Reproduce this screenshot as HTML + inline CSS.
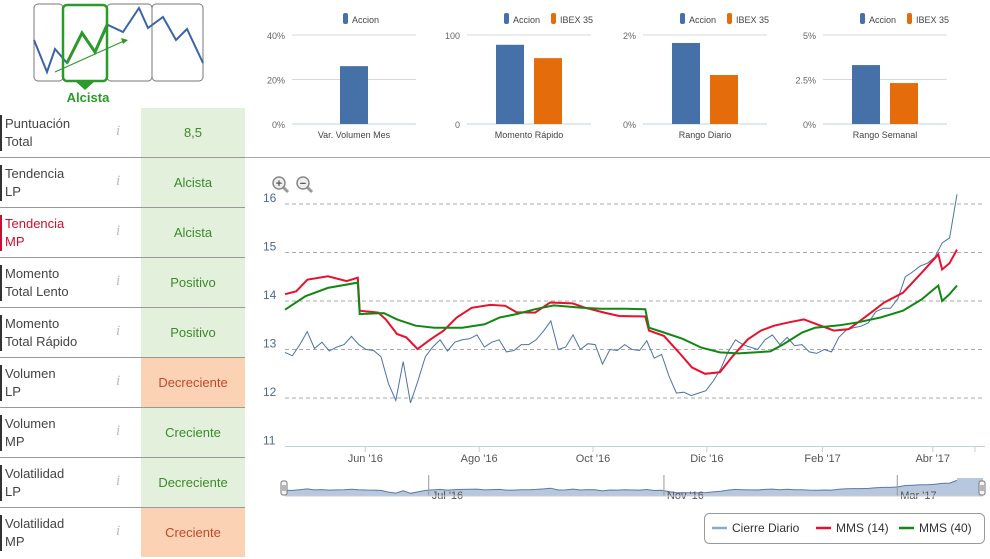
<!DOCTYPE html>
<html><head><meta charset="utf-8">
<style>
body{margin:0;width:990px;height:559px;background:#fff;font-family:"Liberation Sans",sans-serif;overflow:hidden;position:relative}
.row{position:absolute;left:0;width:245px;height:49px;border-bottom:1px solid #999}
.lab{position:absolute;left:5px;top:7px;font-size:13px;line-height:18px;color:#444;border-left:2px solid #333;padding-left:3px;margin-left:-5px}
.ic{position:absolute;left:116px;top:15px;font:italic 15px "Liberation Serif",serif;color:#bbb}
.val{position:absolute;left:141px;top:0;width:104px;height:49px;line-height:49px;text-align:center;font-size:13px}
.g{background:#e2f0dc;color:#3d8a2a}.o{background:#fbd3b4;color:#c0492b}
svg text{font-family:"Liberation Sans",sans-serif}
</style></head><body>
<svg style="position:absolute;left:0;top:0" width="245" height="108">
 <rect x="34" y="4" width="29" height="77" rx="4" fill="#fff" stroke="#777"/>
 <rect x="107" y="4" width="45" height="77" rx="4" fill="#fff" stroke="#777"/>
 <rect x="152" y="4" width="51" height="77" rx="4" fill="#fff" stroke="#777"/>
 <polyline points="34,40 47,72 55,49 67,63 82,33 95,52 108,25 123,32 139,8 148,28 163,17 176,40 187,29 203,63" fill="none" stroke="#3a64a8" stroke-width="2"/>
 <rect x="63" y="5" width="44" height="76" rx="4" fill="none" stroke="#2a9a2a" stroke-width="2.5"/>
 <polyline points="67,63 82,33 95,52 107,25" fill="none" stroke="#2a9a2a" stroke-width="3"/>
 <line x1="55" y1="72" x2="124" y2="41" stroke="#2a9a2a" stroke-width="1.2"/>
 <polygon points="128,40 121,38 123,44" fill="#2a9a2a"/>
 <polygon points="75,81 95,81 85,90" fill="#2a9a2a"/>
 <text x="88" y="102" text-anchor="middle" font-size="13" font-weight="bold" fill="#2a9a2a">Alcista</text>
</svg>

<div class="row" style="top:108px"><div class="lab">Puntuación<br>Total</div><span class="ic">i</span><div class="val g">8,5</div></div>
<div class="row" style="top:158px"><div class="lab">Tendencia<br>LP</div><span class="ic">i</span><div class="val g">Alcista</div></div>
<div class="row" style="top:208px"><div class="lab" style="color:#c8102e;border-color:#c8102e">Tendencia<br>MP</div><span class="ic">i</span><div class="val g">Alcista</div></div>
<div class="row" style="top:258px"><div class="lab">Momento<br>Total Lento</div><span class="ic">i</span><div class="val g">Positivo</div></div>
<div class="row" style="top:308px"><div class="lab">Momento<br>Total Rápido</div><span class="ic">i</span><div class="val g">Positivo</div></div>
<div class="row" style="top:358px"><div class="lab">Volumen<br>LP</div><span class="ic">i</span><div class="val o">Decreciente</div></div>
<div class="row" style="top:408px"><div class="lab">Volumen<br>MP</div><span class="ic">i</span><div class="val g">Creciente</div></div>
<div class="row" style="top:458px"><div class="lab">Volatilidad<br>LP</div><span class="ic">i</span><div class="val g">Decreciente</div></div>
<div class="row" style="top:508px;border-bottom:none"><div class="lab">Volatilidad<br>MP</div><span class="ic">i</span><div class="val o">Creciente</div></div>

<svg id="topcharts" style="position:absolute;left:0;top:0" width="990" height="160"></svg>
<svg id="main" style="position:absolute;left:0;top:0" width="990" height="559"></svg>

<script>
// mini bar chart data
const miniTitles=["Var. Volumen Mes","Momento Rápido","Rango Diario","Rango Semanal"];
const miniAccion=[26,89,1.82,3.31];
const miniIbex=[null,74,1.10,2.30];
const miniMax=[40,100,2,5];
const miniTicks=[["0%","20%","40%"],["0","100"],["0%","2%"],["0%","2.5%","5%"]];

// main chart data
const closeStepDays=360/91;
const closeVals=[12.94,12.87,13.1,13.37,13.02,13.15,12.97,13.05,13.1,13.27,13.1,13.0,12.98,12.85,12.3,11.95,12.75,11.9,12.35,12.85,13.05,13.2,12.97,13.15,13.2,13.22,13.3,13.05,13.15,13.2,12.95,12.98,13.1,13.1,13.2,13.38,13.59,13.0,13.05,13.3,13.0,13.12,13.1,12.7,13.0,12.98,13.1,13.0,12.98,13.18,12.82,12.9,12.45,12.1,12.12,12.05,12.1,12.15,12.35,12.6,12.95,13.2,13.1,13.05,13.0,13.2,13.3,13.1,13.25,13.08,13.1,12.95,12.92,13.0,12.95,13.25,13.4,13.45,13.48,13.55,13.78,13.85,13.85,14.05,14.5,14.6,14.72,14.78,14.9,15.2,15.3,16.2];
const ma14Days=[0,6,12,23,33,39,40,50,54,60,65,71,78,85,92,100,110,118,124,134,142,154,161,171,179,193,195,203,211,218,225,233,240,248,255,262,270,278,287,294,302,307,314,321,331,341,350,352,356,360];
const ma14Vals=[14.14,14.2,14.44,14.51,14.41,14.48,13.8,13.76,13.62,13.32,13.25,13.01,13.21,13.39,13.66,13.86,13.92,13.9,13.77,13.76,13.97,13.95,13.86,13.76,13.69,13.68,13.39,13.28,12.94,12.63,12.5,12.53,12.87,13.21,13.39,13.49,13.56,13.62,13.49,13.39,13.42,13.56,13.76,13.97,14.17,14.58,14.96,14.65,14.78,15.06];
const ma40Days=[0,11,23,39,40,53,60,70,80,95,107,115,124,134,144,159,169,183,193,195,203,213,223,233,243,260,267,277,284,297,307,319,331,341,350,352,356,360];
const ma40Vals=[13.82,14.1,14.27,14.38,13.73,13.75,13.62,13.49,13.45,13.45,13.52,13.66,13.73,13.83,13.91,13.86,13.84,13.84,13.83,13.45,13.35,13.22,13.04,12.94,12.92,12.96,13.11,13.35,13.45,13.5,13.56,13.66,13.8,14.03,14.32,14.0,14.14,14.32];
const yTicks=[11,12,13,14,15,16];
const xTickLabels=["Jun '16","Ago '16","Oct '16","Dic '16","Feb '17","Abr '17"];
const xTickDays=[43,104,165,226,288,347];
const navLabels=["Jul '16","Nov '16","Mar '17"];
const navDays=[77,203,328];

const NS="http://www.w3.org/2000/svg";
function mk(p,t,a){const e=document.createElementNS(NS,t);for(const k in a)e.setAttribute(k,a[k]);p.appendChild(e);return e;}

// mini charts
const topSvg=document.getElementById('topcharts');
const miniX=[292,467,643,823],miniW=124,y0=124,y1=35;
mk(topSvg,'line',{x1:245,y1:157.5,x2:990,y2:157.5,stroke:'#aaa'});
miniTitles.forEach((t,i)=>{
 const g=mk(topSvg,'g',{});
 
 
 const x0=miniX[i];
 const ticks=miniTicks[i];
 ticks.forEach((lab,j)=>{const y=y0-(y0-y1)*j/(ticks.length-1);
  mk(g,'line',{x1:x0,y1:y,x2:x0+miniW,y2:y,stroke:j==0?'#c0d0e0':'#d8d8d8'});
  const tx=mk(g,'text',{x:x0-7,y:y+4,'text-anchor':'end','font-size':9,fill:'#666'});tx.textContent=lab;});
 const ys=v=>y0-(y0-y1)*v/miniMax[i];
 const cx=x0+miniW/2;
 const hasI=miniIbex[i]!==null;
 const bx=hasI?cx-33:cx-14;
 const b=mk(g,'rect',{x:bx,y:ys(miniAccion[i]),width:28,height:y0-ys(miniAccion[i]),fill:'#4570a8'});
 
 
 if(hasI){const o=mk(g,'rect',{x:cx+5,y:ys(miniIbex[i]),width:28,height:y0-ys(miniIbex[i]),fill:'#e46c0a'});
  
  }
 const tt=mk(g,'text',{x:cx,y:138,'text-anchor':'middle','font-size':9,fill:'#444'});tt.textContent=t;
 const lx=hasI?cx-25:cx-11;
 mk(g,'rect',{x:lx,y:13,width:5,height:11,rx:2,fill:'#4570a8'});
 const l1=mk(g,'text',{x:lx+9,y:23,'font-size':9,fill:'#444'});l1.textContent='Accion';
 if(hasI){mk(g,'rect',{x:lx+47,y:13,width:5,height:11,rx:2,fill:'#e46c0a'});
  const l2=mk(g,'text',{x:lx+56,y:23,'font-size':9,fill:'#444'});l2.textContent='IBEX 35';}
});

// main chart
const m=document.getElementById('main');
const X=d=>285+d*(672/360);
const Y=v=>204+(16-v)*48.5;
yTicks.forEach(v=>{
 if(v>11)mk(m,'line',{x1:285,y1:Y(v),x2:985,y2:Y(v),stroke:'#aaa','stroke-dasharray':'4,3'});
 const t=mk(m,'text',{x:263,y:Y(v)-2,'font-size':12,fill:'#4a6a8f'});t.textContent=v;
});
mk(m,'line',{x1:285,y1:446.5,x2:985,y2:446.5,stroke:'#c0d0e0'});
xTickDays.forEach((d,i)=>{
 mk(m,'line',{x1:X(d),y1:446,x2:X(d),y2:452,stroke:'#c0d0e0'});
 const t=mk(m,'text',{x:X(d),y:462,'text-anchor':'middle','font-size':11,fill:'#555'});t.textContent=xTickLabels[i];
});
mk(m,'line',{x1:975,y1:446,x2:975,y2:452,stroke:'#c0d0e0'});
function path(days,vals){return vals.map((v,i)=>(i?'L':'M')+X(days(i)).toFixed(1)+','+Y(v).toFixed(1)).join('');}
const cl=mk(m,'path',{d:path(i=>i*closeStepDays,closeVals),fill:'none',stroke:'#4a73a8','stroke-width':1});


const r=mk(m,'path',{d:path(i=>ma14Days[i],ma14Vals),fill:'none',stroke:'#e8112d','stroke-width':2});


const gr=mk(m,'path',{d:path(i=>ma40Days[i],ma40Vals),fill:'none',stroke:'#118811','stroke-width':2});



// zoom icons
[[279,'+','zoom-in-button'],[303,'−','zoom-out-button']].forEach(([x,s,n])=>{
 const g=mk(m,'g',{});
 
 
 mk(g,'line',{x1:x+4,y1:187,x2:x+9,y2:192,stroke:'#999','stroke-width':3});
 mk(g,'circle',{cx:x,cy:183,r:6,fill:'#eee',stroke:'#888','stroke-width':1.5});
 const t=mk(g,'text',{x:x,y:187,'text-anchor':'middle','font-size':11,'font-weight':'bold',fill:'#555'});t.textContent=s;
});

// navigator
const NY=v=>496-(v-11)*3;
const nav=mk(m,'g',{});


let nd=closeVals.map((v,i)=>'L'+X(i*closeStepDays).toFixed(1)+','+NY(v).toFixed(1)).join('');
mk(nav,'path',{d:'M285,496'+nd+'L957,496Z',fill:'#b7c8de',stroke:'none'});
mk(nav,'path',{d:'M'+nd.slice(1),fill:'none',stroke:'#5a7aa8','stroke-width':1});
mk(nav,'rect',{x:957,y:478,width:26,height:18,fill:'#b7c8de'});
navDays.forEach((d,i)=>{mk(nav,'line',{x1:X(d),y1:475,x2:X(d),y2:496,stroke:'#999'});
 const t=mk(nav,'text',{x:X(d)+3,y:499,'font-size':11,fill:'#555'});t.textContent=navLabels[i];});
mk(nav,'line',{x1:285,y1:496,x2:983,y2:496,stroke:'#ccc'});
[284,982].forEach(x=>{mk(nav,'rect',{x:x-3,y:481,width:6,height:14,rx:2,fill:'#f4f4f4',stroke:'#777'});
 mk(nav,'line',{x1:x-1,y1:485,x2:x-1,y2:491,stroke:'#777'});mk(nav,'line',{x1:x+1,y1:485,x2:x+1,y2:491,stroke:'#777'});});

// legend
const lg=mk(m,'g',{});


mk(lg,'rect',{x:704.5,y:513.5,width:280,height:30,rx:5,fill:'#fff',stroke:'#999'});
[[712,'#8fa8c8','Cierre Diario','legend-close'],[816,'#e8112d','MMS (14)','legend-mms14'],[899,'#118811','MMS (40)','legend-mms40']].forEach(([x,c,t,n])=>{
 const it=mk(lg,'g',{});
 
 
 mk(it,'line',{x1:x,y1:528,x2:x+15,y2:528,stroke:c,'stroke-width':2.5});
 const tx=mk(it,'text',{x:x+20,y:532,'font-size':12,fill:'#333'});tx.textContent=t;
});
</script>
</body></html>
